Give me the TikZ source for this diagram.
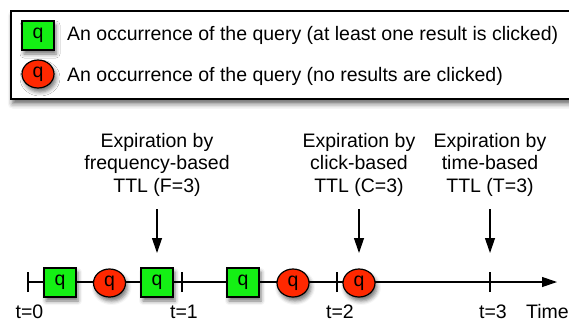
\documentclass[tikz,border=0pt]{standalone}
\usepackage{fontspec}
\setmainfont{Liberation Sans}
\usetikzlibrary{arrows.meta,shapes.geometric,shadows.blur}
\definecolor{qgreen}{RGB}{20,240,20}
\definecolor{qred}{RGB}{255,40,0}
\tikzset{
  shad/.style={blur shadow={shadow xshift=2pt,shadow yshift=-4pt,shadow blur radius=4pt,shadow opacity=55}},
  clicked/.style={draw=black,line width=1.2pt,fill=qgreen,minimum width=32pt,minimum height=29pt,inner sep=0pt,shad},
  noclick/.style={ellipse,draw=black,line width=1.2pt,fill=qred,minimum width=32pt,minimum height=28pt,inner sep=0pt,shad},
  txt/.style={font=\fontsize{19.5}{22.5}\selectfont,inner sep=0pt},
  tickmark/.style={line width=1.2pt},
  bigarrow/.style={line width=1.2pt,-{Triangle[length=15pt,width=10pt]}},
}
\begin{document}
\begin{tikzpicture}[x=1pt,y=-1pt]
\useasboundingbox (0,0) rectangle (569,322);
% legend
\node[draw=black,line width=1.5pt,fill=white,minimum width=570pt,minimum height=88pt,anchor=north west,inner sep=0pt,
  blur shadow={shadow xshift=2pt,shadow yshift=-5pt,shadow blur radius=5pt,shadow opacity=60}] (legend) at (10,10) {};
\node[clicked,txt] (lq1) at (38,35.5) {q};
\node[noclick,txt] (lr1) at (38,74) {q};
\node[txt,anchor=west] (lt1) at (67,35) {An occurrence of the query (at least one result is clicked)};
\node[txt,anchor=west] (lt2) at (67,76) {An occurrence of the query (no results are clicked)};
% axis
\coordinate (t0) at (28,282);
\coordinate (t1) at (182,282);
\coordinate (t2) at (337,282);
\coordinate (t3) at (490,282);
\coordinate (tend) at (557,282);
\draw[bigarrow] (t0) -- (tend);
\foreach \p in {t0,t1,t2,t3}{\draw[tickmark] ([yshift=-10pt]\p) -- ([yshift=10pt]\p);}
\node[clicked,txt] (s1) at (60,282.5) {q};
\node[noclick,txt] (c1) at (109.5,283) {q};
\node[clicked,txt] (s2) at (157,282.5) {q};
\node[clicked,txt] (s3) at (243,282.5) {q};
\node[noclick,txt] (c2) at (293,283) {q};
\node[noclick,txt] (c3) at (359,283) {q};
% tick labels
\node[txt] (l0) at (29.5,312) {t=0};
\node[txt] (l1) at (184,312) {t=1};
\node[txt] (l2) at (340,312) {t=2};
\node[txt] (l3) at (493,312) {t=3};
\node[txt] (lt) at (547.5,312) {Time};
% expiration labels
\node[txt,align=center] (ef) at (157,164.5) {Expiration by\\frequency-based\\TTL (F=3)};
\node[txt,align=center] (ec) at (359,164.5) {Expiration by\\click-based\\TTL (C=3)};
\node[txt,align=center] (et) at (490,164.5) {Expiration by\\time-based\\TTL (T=3)};
\coordinate (af) at (157,253);
\coordinate (ac) at (359,253);
\coordinate (at3) at (490,253);
\draw[bigarrow] (157,209) -- (af);
\draw[bigarrow] (359,209) -- (ac);
\draw[bigarrow] (490,209) -- (at3);
\end{tikzpicture}
\end{document}
